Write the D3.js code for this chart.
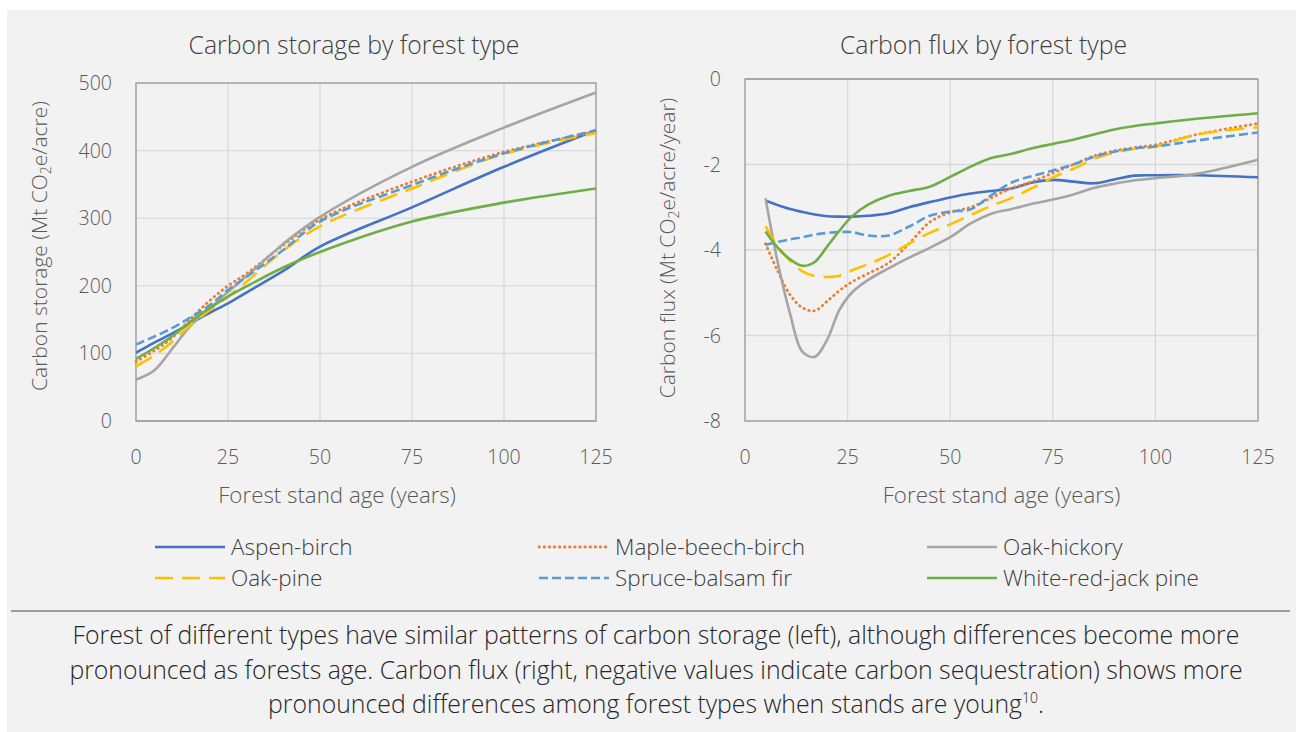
<!DOCTYPE html>
<html>
<head>
<meta charset="utf-8">
<script src="https://cdn.jsdelivr.net/npm/d3@7"></script>
<style>
  body { margin: 0; background: #fff; }
  svg text { font-family: "Open Sans", "Noto Sans", sans-serif; font-weight: 300; }
</style>
</head>
<body>
<svg id="chart" width="1296" height="732"></svg>
<script>
// series names, in legend order
const seriesNames = ["Aspen-birch", "Maple-beech-birch", "Oak-hickory", "Oak-pine", "Spruce-balsam fir", "White-red-jack pine"];
const seriesColors = ["#4472c4", "#ed7d31", "#a5a5a5", "#ffc000", "#5b9bd5", "#70ad47"];
const seriesDash = [null, "0.5,4.6", null, "18,9", "9,4", null];

// left chart: carbon storage
const storageAges = [0, 5, 10, 15, 20, 25, 30, 40, 50, 75, 100, 125];
const storageAspen  = [101, 116, 130, 145, 160, 174, 190, 222, 258, 316, 376, 430];
const storageMaple  = [88, 104, 124, 152, 178, 200, 218, 260, 298, 354, 398, 428];
const storageOakHick = [61, 75, 108, 142, 166, 191, 214, 262, 302, 376, 434, 486];
const storageOakPine = [81, 97, 118, 143, 164, 184, 206, 252, 288, 344, 395, 426];
const storageSpruce = [113, 125, 138, 154, 171, 194, 213, 253, 295, 349, 396, 430];
const storageWhite  = [92, 108, 126, 148, 167, 184, 199, 227, 250, 295, 323, 344];

// right chart: carbon flux
const fluxAges = [5, 8, 11, 14, 17, 20, 23, 26, 30, 35, 40, 45, 50, 55, 60, 65, 70, 75, 80, 85, 90, 95, 100, 110, 125];
const fluxAspen  = [-2.85, -2.95, -3.04, -3.11, -3.17, -3.21, -3.22, -3.22, -3.20, -3.14, -3.00, -2.88, -2.77, -2.68, -2.62, -2.56, -2.42, -2.36, -2.40, -2.44, -2.35, -2.26, -2.25, -2.25, -2.30];
const fluxMaple  = [-3.85, -4.50, -5.05, -5.35, -5.42, -5.20, -4.95, -4.75, -4.55, -4.30, -3.85, -3.35, -3.12, -3.00, -2.78, -2.55, -2.40, -2.20, -2.00, -1.80, -1.68, -1.60, -1.54, -1.30, -1.04];
const fluxOakHick = [-2.79, -4.30, -5.50, -6.38, -6.50, -6.10, -5.40, -5.00, -4.70, -4.43, -4.18, -3.95, -3.70, -3.38, -3.15, -3.04, -2.92, -2.82, -2.70, -2.55, -2.45, -2.37, -2.32, -2.22, -1.89];
const fluxOakPine = [-3.44, -3.92, -4.25, -4.50, -4.61, -4.63, -4.60, -4.48, -4.33, -4.12, -3.85, -3.60, -3.40, -3.18, -2.97, -2.78, -2.55, -2.30, -2.10, -1.87, -1.72, -1.63, -1.58, -1.30, -1.13];
const fluxSpruce = [-3.88, -3.81, -3.75, -3.70, -3.64, -3.60, -3.58, -3.58, -3.66, -3.66, -3.45, -3.20, -3.10, -3.05, -2.72, -2.42, -2.27, -2.14, -2.00, -1.82, -1.70, -1.62, -1.58, -1.44, -1.25];
const fluxWhite  = [-3.57, -3.95, -4.22, -4.37, -4.28, -3.92, -3.55, -3.22, -2.94, -2.73, -2.62, -2.52, -2.29, -2.05, -1.85, -1.75, -1.62, -1.52, -1.42, -1.30, -1.18, -1.10, -1.04, -0.93, -0.80];

const xTicks = [0, 25, 50, 75, 100, 125];
const storageTicks = [0, 100, 200, 300, 400, 500];
const fluxTicks = [0, -2, -4, -6, -8];

const captionLines = [
  "Forest of different types have similar patterns of carbon storage (left), although differences become more",
  "pronounced as forests age. Carbon flux (right, negative values indicate carbon sequestration) shows more",
  "pronounced differences among forest types when stands are young"
];

const svg = d3.select("#chart");

// grey panel
svg.append("rect").attr("x", 7).attr("y", 10).attr("width", 1289).attr("height", 722).attr("fill", "#f2f2f2");

function drawPanel(opt) {
  const x = d3.scaleLinear().domain([0, 125]).range([opt.left, opt.right]);
  const y = d3.scaleLinear().domain(opt.yDomain).range([opt.bottom, opt.top]);
  const g = svg.append("g");

  // gridlines
  g.append("g").selectAll("line").data(opt.yTicks).join("line")
    .attr("x1", opt.left).attr("x2", opt.right)
    .attr("y1", d => y(d)).attr("y2", d => y(d))
    .attr("stroke", "#d9d9d9").attr("stroke-width", 1.3);
  g.append("g").selectAll("line").data(xTicks).join("line")
    .attr("y1", opt.top).attr("y2", opt.bottom)
    .attr("x1", d => x(d)).attr("x2", d => x(d))
    .attr("stroke", "#d9d9d9").attr("stroke-width", 1.3);

  // plot border
  g.append("rect").attr("x", opt.left).attr("y", opt.top)
    .attr("width", opt.right - opt.left).attr("height", opt.bottom - opt.top)
    .attr("fill", "none").attr("stroke", "#a6a6a6").attr("stroke-width", 1.5);
  // horizontal axis line at zero
  g.append("line").attr("x1", opt.left).attr("x2", opt.right)
    .attr("y1", y(0)).attr("y2", y(0)).attr("stroke", "#a6a6a6").attr("stroke-width", 2.2);

  // series
  const line = d3.line().x((d, i) => x(opt.ages[i])).y(d => y(d)).curve(d3.curveCatmullRom.alpha(0.5));
  opt.series.forEach((vals, i) => {
    g.append("path").attr("d", line(vals))
      .attr("fill", "none")
      .attr("stroke", seriesColors[i])
      .attr("stroke-width", i == 1 ? 2.8 : 2.6)
      .attr("stroke-linecap", i == 1 ? "round" : "butt")
      .attr("stroke-dasharray", seriesDash[i]);
  });

  // tick labels
  g.append("g").selectAll("text").data(xTicks).join("text")
    .attr("x", d => x(d)).attr("y", 464)
    .attr("text-anchor", "middle").attr("font-size", 19.5).attr("fill", "#595959")
    .text(d => d);
  g.append("g").selectAll("text").data(opt.yTicks).join("text")
    .attr("x", opt.left - 24).attr("y", d => y(d) + 7)
    .attr("text-anchor", "end").attr("font-size", 19.5).attr("fill", "#595959")
    .text(d => d);

  // title
  svg.append("text").attr("x", (opt.left + opt.right) / 2 + opt.titleShift).attr("y", 54)
    .attr("text-anchor", "middle").attr("font-size", 24.8).attr("fill", "#404040")
    .text(opt.title);
  // x axis title
  svg.append("text").attr("x", (opt.left + opt.right) / 2 + opt.xTitleShift).attr("y", 503)
    .attr("text-anchor", "middle").attr("font-size", 22.3).attr("fill", "#595959")
    .text("Forest stand age (years)");
  // y axis title, with subscript 2
  const yt = svg.append("text")
    .attr("transform", `translate(${opt.yTitleX},${opt.yTitleY}) rotate(-90)`)
    .attr("text-anchor", "middle").attr("font-size", 21).attr("fill", "#595959");
  yt.append("tspan").text(opt.yLabel[0] + " (Mt CO");
  yt.append("tspan").attr("font-size", 14).attr("dy", 4).text("2");
  yt.append("tspan").attr("dy", -4).text("e/" + opt.yLabel[1] + ")");
}

drawPanel({
  left: 136, right: 596, top: 83, bottom: 421,
  yDomain: [0, 500], yTicks: storageTicks, ages: storageAges,
  series: [storageAspen, storageMaple, storageOakHick, storageOakPine, storageSpruce, storageWhite],
  title: "Carbon storage by forest type", titleShift: -12, xTitleShift: -29,
  yTitleX: 47, yTitleY: 246, yLabel: ["Carbon storage", "acre"]
});

drawPanel({
  left: 745, right: 1258, top: 79, bottom: 421,
  yDomain: [-8, 0], yTicks: fluxTicks, ages: fluxAges,
  series: [fluxAspen, fluxMaple, fluxOakHick, fluxOakPine, fluxSpruce, fluxWhite],
  title: "Carbon flux by forest type", titleShift: -18, xTitleShift: 0,
  yTitleX: 675, yTitleY: 248, yLabel: ["Carbon flux", "acre/year"]
});

// legend
const legendX = [155, 539, 927];
const legendY = [547, 578];
const legend = svg.append("g");
seriesNames.forEach((name, i) => {
  const lx = legendX[i % 3], ly = legendY[Math.floor(i / 3)];
  legend.append("line").attr("x1", lx).attr("x2", lx + 70).attr("y1", ly).attr("y2", ly)
    .attr("stroke", seriesColors[i]).attr("stroke-width", i == 1 ? 2.8 : 2.6)
    .attr("stroke-linecap", i == 1 ? "round" : "butt")
    .attr("stroke-dasharray", seriesDash[i]);
  legend.append("text").attr("x", lx + 76).attr("y", ly + 8)
    .attr("font-size", 22.5).attr("fill", "#404040").text(name);
});

// separator and caption
svg.append("line").attr("x1", 11).attr("x2", 1290).attr("y1", 611).attr("y2", 611)
  .attr("stroke", "#7f7f7f").attr("stroke-width", 1.3);
captionLines.forEach((t, i) => {
  const txt = svg.append("text").attr("x", 656).attr("y", 644 + i * 34.5)
    .attr("text-anchor", "middle").attr("font-size", 24.8).attr("fill", "#262626");
  txt.append("tspan").text(t);
  if (i == 2) {
    txt.append("tspan").attr("font-size", 14).attr("dy", -10).text("10");
    txt.append("tspan").attr("dy", 10).text(".");
  }
});
</script>
</body>
</html>
